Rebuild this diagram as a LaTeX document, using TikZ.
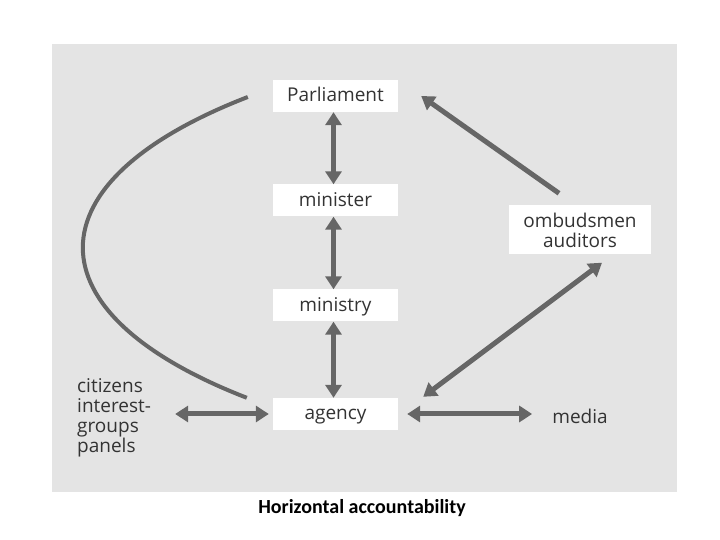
\documentclass[tikz,border=0pt]{standalone}
\usepackage{fontspec}
\setmainfont{Open Sans}
\newfontfamily\capfont{Carlito}
\usepackage{xcolor}
\usetikzlibrary{arrows.meta, positioning}
\definecolor{PanelGray}{HTML}{E4E4E4}
\definecolor{ArrowGray}{HTML}{666666}
\definecolor{TextDark}{HTML}{333333}

\begin{document}
\begin{tikzpicture}[
    x=1pt, y=1pt,
    box/.style={fill=white, minimum width=125pt, minimum height=32pt, inner sep=0pt, text height=15pt, text depth=3pt, font=\fontsize{19}{20}\selectfont, text=TextDark},
    wbox/.style={fill=white, minimum width=142pt, minimum height=49pt, inner sep=0pt, align=center, font=\fontsize{19}{20}\selectfont, text=TextDark},
    txt/.style={inner sep=0pt, font=\fontsize{19}{20}\selectfont, text=TextDark},
    dblarr/.style={{Triangle[length=13pt,width=16pt]}-{Triangle[length=13pt,width=16pt]}, line width=5pt, ArrowGray},
    onearr/.style={-{Triangle[length=13pt,width=16pt]}, line width=5pt, ArrowGray}
]
\useasboundingbox (0,0) rectangle (720,540);
\fill[white] (0,0) rectangle (720,540);
\fill[PanelGray] (52,48) rectangle (677,496);

% Centre column: Parliament down to agency
\node[box] (parl) at (335.5,444) {Parliament};
\node[box] (mnstr) at (335.5,339.5) {minister};
\node[box] (mnstry) at (335.5,234.5) {ministry};
\node[box] (agency) at (335.5,126) {agency};

% Right side
\node[wbox] (ombud) at (580,310) {ombudsmen\\auditors};
\node[txt] (media) at (580,124) {media};

% Left side
\node[txt, anchor=west, align=left] (cit) at (77,122) {citizens\\interest-\\groups\\panels};

% Vertical chain
\draw[dblarr] ([xshift=-2pt]parl.south) -- ([xshift=-2pt]mnstr.north);
\draw[dblarr] ([xshift=-2pt]mnstr.south) -- ([xshift=-2pt]mnstry.north);
\draw[dblarr] ([xshift=-2pt]mnstry.south) -- ([xshift=-2pt]agency.north);

% Horizontal links of the agency
\draw[dblarr] ([xshift=24pt]cit.east |- agency.west) -- ([xshift=-4pt]agency.west);
\draw[dblarr] ([xshift=9pt]agency.east) -- ([xshift=-20pt]media.west |- agency.east);

% Ombudsmen links
\draw[dblarr] ([shift={(25pt,1pt)}]agency.north east) -- ([shift={(22pt,-8pt)}]ombud.south);
\draw[onearr] ([shift={(-21pt,12pt)}]ombud.north) -- ([xshift=23pt]parl.east);

% Curve from Parliament round to agency
\draw[line width=4pt, ArrowGray] ([shift={(-25pt,-1pt)}]parl.west)
    .. controls (28,358) and (28,227) .. ([xshift=-26pt]agency.north west);

% Caption
\node[inner sep=0pt, font=\capfont\bfseries\fontsize{20}{22}\selectfont] (cap) at (362,32) {Horizontal accountability};
\end{tikzpicture}
\end{document}
